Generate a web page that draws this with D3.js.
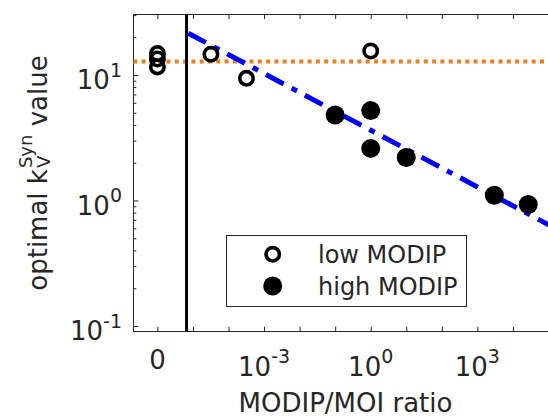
<!DOCTYPE html>
<html><head><meta charset="utf-8">
<script src="https://cdn.jsdelivr.net/npm/d3@7"></script>
<style>
body{margin:0;background:#fff}
svg{display:block}
text{font-family:"DejaVu Sans";fill:#262626}
</style>
</head><body>
<svg id="c" width="548" height="417"></svg>
<script>
// ---- data ----
const lowX  = [0, 0, 0, 3.2e-5, 3.2e-4, 1];
const lowY  = [14.8, 13.4, 11.6, 14.6, 9.4, 15.5];
const highX = [0.1, 1, 1, 10, 3000, 27000];
const highY = [4.8, 5.2, 2.6, 2.2, 1.1, 0.93];
const refLevel = 12.8;                 // orange dotted line
const fitX = [7.4e-6, 1.74e5];         // blue dash-dot fit line end points
const fitY = [21.5, 0.59];
const zeroBreak = 6.6e-6;              // vertical separator between "0" and log part
const zeroPos = 1e-6;                  // where x = 0 is drawn
const xTicks = [1e-5,1e-4,1e-3,1e-2,1e-1,1,1e1,1e2,1e3,1e4];
const xTickLabels = [{v:0, base:"0", sup:""},{v:1e-3, base:"10", sup:"-3"},{v:1, base:"10", sup:"0"},{v:1e3, base:"10", sup:"3"}];
const yTicks = [0.1, 1, 10];
const yTickSup = ["-1", "0", "1"];
const yMinor = [0.2,0.3,0.4,0.5,0.6,0.7,0.8,0.9,2,3,4,5,6,7,8,9,20,30];
const legendLabels = ["low MODIP", "high MODIP"];

// ---- layout ----
const L = 133.3, T = 14, R = 557, B = 331.7;
const svg = d3.select("#c");
const x = d3.scaleLog().domain([Math.pow(10,-6.678), Math.pow(10,5.24)]).range([L, R]);
const y = d3.scaleLog().domain([0.0901, 30.6]).range([B, T]);
const xp = v => v === 0 ? x(zeroPos) : x(v);
const axisCol = "#262626";

svg.append("defs").append("clipPath").attr("id","pc")
  .append("rect").attr("x",L).attr("y",T).attr("width",R-L).attr("height",B-T);

// ticks using d3 axes (inward)
const tickAll = xTicks.concat([zeroPos]);
const gB = svg.append("g").attr("transform",`translate(0,${B})`)
  .call(d3.axisBottom(x).tickValues(tickAll).tickSize(-5).tickSizeOuter(0).tickFormat(""));
const gT = svg.append("g").attr("transform",`translate(0,${T})`)
  .call(d3.axisTop(x).tickValues(tickAll).tickSize(-5).tickSizeOuter(0).tickFormat(""));
const gL = svg.append("g").attr("transform",`translate(${L},0)`)
  .call(d3.axisLeft(y).tickValues(yTicks).tickSize(-5).tickSizeOuter(0).tickFormat(""));
const gLm = svg.append("g").attr("transform",`translate(${L},0)`)
  .call(d3.axisLeft(y).tickValues(yMinor).tickSize(-3).tickSizeOuter(0).tickFormat(""));
[gB,gT,gL,gLm].forEach(g=>{
  g.select(".domain").remove();
  g.selectAll(".tick line").attr("stroke",axisCol).attr("stroke-width",1);
});
// box
svg.append("path").attr("d",`M${L},${T}H${R}M${L},${B}H${R}M${L},${T}V${B}M${R},${T}V${B}`)
  .attr("stroke",axisCol).attr("stroke-width",1).attr("fill","none").attr("shape-rendering","crispEdges");

// tick labels
const xl = svg.append("g");
xTickLabels.forEach(d=>{
  const t = xl.append("text").attr("x", xp(d.v)).attr("text-anchor","middle")
    .attr("font-size",26);
  if (d.sup) {
    t.attr("y",376);
    t.append("tspan").text(d.base);
    t.append("tspan").attr("dy",-12.6).attr("font-size",19).text(d.sup);
  } else {
    t.attr("y",368.5).text(d.base);
  }
});
const yl = svg.append("g");
yTicks.forEach((v,i)=>{
  const t = yl.append("text").attr("x",122).attr("y",y(v)+14.3)
    .attr("text-anchor","end").attr("font-size",26);
  t.append("tspan").text("10");
  t.append("tspan").attr("dy",-12.6).attr("font-size",19).text(yTickSup[i]);
});

// axis labels
svg.append("text").attr("x",345.5).attr("y",411.5).attr("text-anchor","middle")
  .attr("font-size",26).text("MODIP/MOI ratio");

const gy = svg.append("g").attr("transform","translate(46.7,0) rotate(-90)");
const t1 = gy.append("text").attr("font-size",26).text("optimal k");
const tsup = gy.append("text").attr("font-size",18).text("Syn");
const tsub = gy.append("text").attr("font-size",18).text("V");
const t3 = gy.append("text").attr("font-size",26).text("\u00a0value");
const w1 = t1.node().getComputedTextLength();
const ws = Math.max(tsup.node().getComputedTextLength(), tsub.node().getComputedTextLength());
const w3 = t3.node().getComputedTextLength();
const total = w1 + ws + w3;
const start = -(173.5 + total/2);
t1.attr("x",start).attr("y",0);
tsup.attr("x",start+w1+1).attr("y",-15);
tsub.attr("x",start+w1+1).attr("y",3);
t3.attr("x",start+w1+ws+1).attr("y",0);

// lines
const pl = svg.append("g").attr("clip-path","url(#pc)");
pl.append("line").attr("x1",L).attr("x2",R).attr("y1",y(refLevel)).attr("y2",y(refLevel))
  .attr("stroke","#EE7D1E").attr("stroke-width",4).attr("stroke-dasharray","4,4.3");
pl.append("line").attr("x1",x(zeroBreak)).attr("x2",x(zeroBreak)).attr("y1",T).attr("y2",B)
  .attr("stroke","#000").attr("stroke-width",3);
const fitData = fitX.map((v,i)=>[v,fitY[i]]);
pl.append("path").datum(fitData)
  .attr("d", d3.line().x(d=>x(d[0])).y(d=>y(d[1])))
  .attr("stroke","#0000FF").attr("stroke-width",5).attr("fill","none")
  .attr("stroke-dasharray","20,9,6,9");

// markers
const mk = svg.append("g");
mk.selectAll("circle.low").data(lowX.map((v,i)=>[v,lowY[i]])).join("circle")
  .attr("class","low").attr("cx",d=>xp(d[0])).attr("cy",d=>y(d[1])).attr("r",6.7)
  .attr("fill","none").attr("stroke","#000").attr("stroke-width",3.6);
mk.selectAll("circle.high").data(highX.map((v,i)=>[v,highY[i]])).join("circle")
  .attr("class","high").attr("cx",d=>xp(d[0])).attr("cy",d=>y(d[1])).attr("r",9.5)
  .attr("fill","#000");

// legend
const lg = svg.append("g");
lg.append("rect").attr("x",226).attr("y",235).attr("width",240.7).attr("height",71)
  .attr("fill","#fff").attr("stroke",axisCol).attr("stroke-width",1).attr("shape-rendering","crispEdges");
lg.append("circle").attr("cx",272.7).attr("cy",254.3).attr("r",6.7)
  .attr("fill","none").attr("stroke","#000").attr("stroke-width",3.6);
lg.append("circle").attr("cx",272.7).attr("cy",286).attr("r",9.5).attr("fill","#000");
lg.append("text").attr("x",318).attr("y",263).attr("font-size",24).text(legendLabels[0]);
lg.append("text").attr("x",318).attr("y",294.8).attr("font-size",24).text(legendLabels[1]);
</script>
</body></html>
